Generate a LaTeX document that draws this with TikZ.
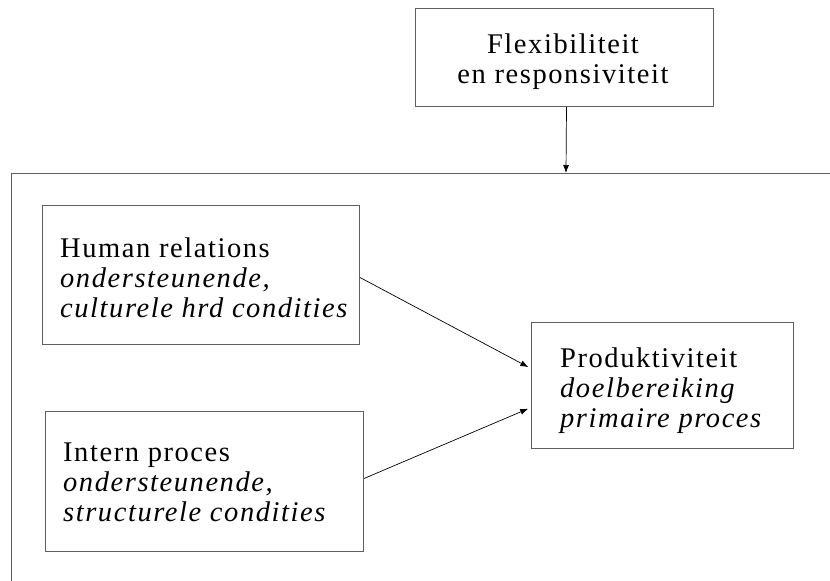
\documentclass[tikz,border=0pt]{standalone}
\usepackage{fontspec}
\setmainfont{Liberation Serif}[LetterSpace=5.5]
\usetikzlibrary{arrows.meta}
\definecolor{boxgray}{RGB}{95,95,95}
\begin{document}
\begin{tikzpicture}[x=1pt,y=-1pt,
  box/.style={draw=boxgray, line width=1pt, inner sep=0pt, anchor=north west},
  txt/.style={inner sep=0pt, anchor=base west, font=\fontsize{28.5}{30}\selectfont},
  conn/.style={draw=black, line width=0.7pt, -{Latex[length=8pt,width=6pt]}},
  framel/.style={draw=boxgray, line width=1pt}]
\useasboundingbox (0,0) rectangle (830,581);
% frame
\coordinate (fbl) at (11,581);
\coordinate (ftl) at (11,173);
\coordinate (ftr) at (830,173);
\coordinate (fin) at (566,173);
\draw[framel] (fbl) -- (ftl) -- (ftr);
% boxes
\node[box, minimum width=298pt, minimum height=98pt] (flex) at (415,8) {};
\node[box, minimum width=317pt, minimum height=139pt] (hr) at (42,205) {};
\node[box, minimum width=262pt, minimum height=126pt] (prod) at (531,322) {};
\node[box, minimum width=318pt, minimum height=140pt] (intern) at (45,411) {};
% texts
\node[txt, anchor=base] (flextxt) at (563,53) {\vtop{\halign{\hfil#\hfil\cr Flexibiliteit\cr en responsiviteit\cr}}};
\node[txt] (hrtxt) at (60,257) {\vtop{\hbox{Human relations}\hbox{\itshape ondersteunende,}\hbox{\itshape culturele hrd condities}}};
\node[txt] (prodtxt) at (560,367) {\vtop{\hbox{Produktiviteit}\hbox{\itshape doelbereiking}\hbox{\itshape primaire proces}}};
\node[txt] (interntxt) at (63,461) {\vtop{\hbox{Intern proces}\hbox{\itshape ondersteunende,}\hbox{\itshape structurele condities}}};
% connectors
\draw[conn] ([xshift=2pt]flex.south) -- (fin);
\draw[conn, shorten >=3pt] ([yshift=-2.5pt]hr.east) -- ([yshift=17pt]prod.west);
\draw[conn, shorten >=3pt] ([yshift=3pt]intern.east) -- ([yshift=-22pt]prod.west);
\end{tikzpicture}
\end{document}
